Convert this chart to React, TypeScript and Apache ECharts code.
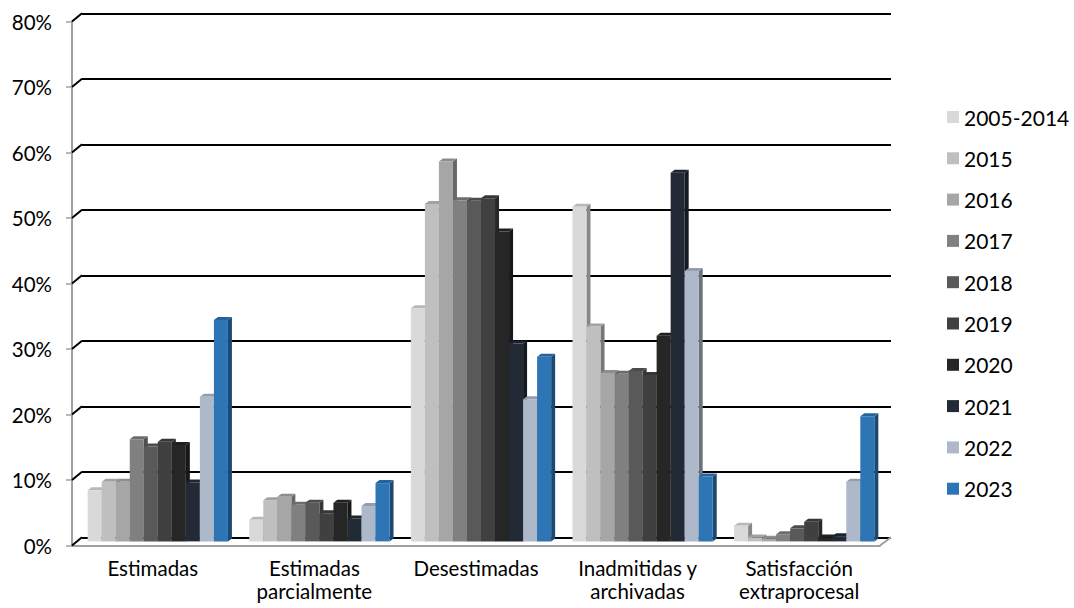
import React, { useEffect, useRef } from "react";
import * as echarts from "echarts";

const categories = [
  "Estimadas",
  "Estimadas\nparcialmente",
  "Desestimadas",
  "Inadmitidas y\narchivadas",
  "Satisfacción\nextraprocesal",
];

const years = ["2005-2014", "2015", "2016", "2017", "2018", "2019", "2020", "2021", "2022", "2023"];

const v2005_2014 = [7.8, 3.3, 35.6, 51.1, 2.4];
const v2015 = [9.1, 6.3, 51.5, 32.8, 0.6];
const v2016 = [9.1, 6.8, 58.0, 25.7, 0.4];
const v2017 = [15.6, 5.6, 52.1, 25.6, 1.1];
const v2018 = [14.5, 5.9, 52.0, 26.0, 2.0];
const v2019 = [15.2, 4.3, 52.4, 25.4, 3.0];
const v2020 = [14.7, 5.9, 47.3, 31.4, 0.6];
const v2021 = [9.0, 3.5, 30.2, 56.3, 0.8];
const v2022 = [22.1, 5.4, 21.7, 41.3, 9.1];
const v2023 = [33.8, 8.9, 28.2, 9.9, 19.1];

const seriesValues = [v2005_2014, v2015, v2016, v2017, v2018, v2019, v2020, v2021, v2022, v2023];

const colors = ["#d9d9d9", "#bfbfbf", "#a6a6a6", "#808080", "#595959", "#404040", "#262626", "#222a35", "#adb9ca", "#2e75b6"];

const yTicks = [0, 10, 20, 30, 40, 50, 60, 70, 80];

function shade(hex: string, f: number) {
  const n = parseInt(hex.slice(1), 16);
  const r = Math.round(((n >> 16) & 255) * f);
  const g = Math.round(((n >> 8) & 255) * f);
  const b = Math.round((n & 255) * f);
  return `rgb(${r},${g},${b})`;
}

const FONT = "Lato";
const DX = 4;
const DY = 3;
const WALL_DX = 10;
const WALL_DY = 8.2;

export default function App() {
  const ref = useRef<HTMLDivElement>(null);
  useEffect(() => {
    document.body.style.margin = "0";
    const chart = echarts.init(ref.current!, null, { renderer: "svg" });
    const nSeries = years.length;

    const barSeries = years.map((name, s) => ({
      name,
      type: "custom",
      xAxisIndex: 2,
      yAxisIndex: 2,
      itemStyle: { color: colors[s] },
      data: seriesValues[s].map((v, i) => [i, v]),
      renderItem: (params: any, api: any) => {
        const ci = api.value(0);
        const val = api.value(1);
        const top = api.coord([ci, val]);
        const base = api.coord([ci, 0]);
        const band = api.size([1, 0])[0];
        const groupW = band * 0.868;
        const bw = groupW / nSeries;
        const x = top[0] - groupW / 2 + s * bw;
        const yT = top[1];
        const yB = base[1];
        const c = colors[s];
        return {
          type: "group",
          children: [
            {
              type: "polygon",
              shape: {
                points: [
                  [x + bw, yT],
                  [x + bw + DX, yT - DY],
                  [x + bw + DX, yB - DY],
                  [x + bw, yB],
                ],
              },
              style: { fill: shade(c, 0.62) },
            },
            {
              type: "polygon",
              shape: {
                points: [
                  [x, yT],
                  [x + DX, yT - DY],
                  [x + bw + DX, yT - DY],
                  [x + bw, yT],
                ],
              },
              style: { fill: shade(c, 0.85) },
            },
            {
              type: "rect",
              shape: { x, y: yT, width: bw, height: yB - yT },
              style: { fill: c },
            },
          ],
        };
      },
    }));

    const diagSeries = {
      type: "custom",
      xAxisIndex: 0,
      yAxisIndex: 0,
      silent: true,
      z: 1,
      data: yTicks.map((v) => [0, v]),
      renderItem: (params: any, api: any) => {
        const cs = params.coordSys;
        const y = api.coord([0, api.value(1)])[1];
        const children: any[] = [
          {
            type: "line",
            shape: { x1: cs.x, y1: y, x2: cs.x + WALL_DX, y2: y - WALL_DY },
            style: { stroke: "#000", lineWidth: 2 },
          },
        ];
        if (api.value(1) === 0) {
          children.push({
            type: "line",
            shape: { x1: cs.x + cs.width, y1: y, x2: cs.x + cs.width + WALL_DX + 1, y2: y - WALL_DY },
            style: { stroke: "#a0a0a0", lineWidth: 2 },
          });
        }
        return { type: "group", children };
      },
    };

    const axisBase = { type: "category", data: categories, boundaryGap: true };
    const yBase = { type: "value", min: 0, max: 80, interval: 10 };

    chart.setOption({
      animation: false,
      textStyle: { fontFamily: FONT },
      grid: [
        { left: 72, top: 21.5, width: 808, height: 524 },
        { left: 82, top: 13.3, width: 809, height: 524 },
        { left: 77, top: 17.4, width: 808, height: 524 },
      ],
      legend: {
        data: years.map((y) => ({ name: y, icon: "rect" })),
        orient: "vertical",
        left: 942,
        top: 100,
        itemWidth: 12,
        itemHeight: 12,
        itemGap: 17.3,
        textStyle: { fontFamily: FONT, fontSize: 21, color: "#000", lineHeight: 24 },
        selectedMode: false,
      },
      xAxis: [
        {
          ...axisBase,
          gridIndex: 0,
          axisLine: { lineStyle: { color: "#a0a0a0", width: 2 } },
          axisTick: { length: 6, lineStyle: { color: "#a0a0a0", width: 1.5 } },
          axisLabel: { fontFamily: FONT, fontSize: 20.5, color: "#000", lineHeight: 23, margin: 11, interval: 0 },
        },
        { ...axisBase, gridIndex: 1, show: false },
        { ...axisBase, gridIndex: 2, show: false },
      ],
      yAxis: [
        {
          ...yBase,
          gridIndex: 0,
          axisLine: { show: true, lineStyle: { color: "#a0a0a0", width: 2 } },
          axisTick: { show: true, length: 6, lineStyle: { color: "#a0a0a0", width: 1.5 } },
          axisLabel: { fontFamily: FONT, fontSize: 20.5, color: "#000", margin: 20, formatter: "{value}%" },
          splitLine: { show: false },
        },
        {
          ...yBase,
          gridIndex: 1,
          axisLine: { show: false },
          axisTick: { show: false },
          axisLabel: { show: false },
          splitLine: { show: true, lineStyle: { color: "#000", width: 2 } },
        },
        { ...yBase, gridIndex: 2, show: false, splitLine: { show: false } },
      ],
      series: [diagSeries, ...barSeries],
    });
    return () => chart.dispose();
  }, []);
  return <div ref={ref} style={{ width: 1074, height: 608 }} />;
}
